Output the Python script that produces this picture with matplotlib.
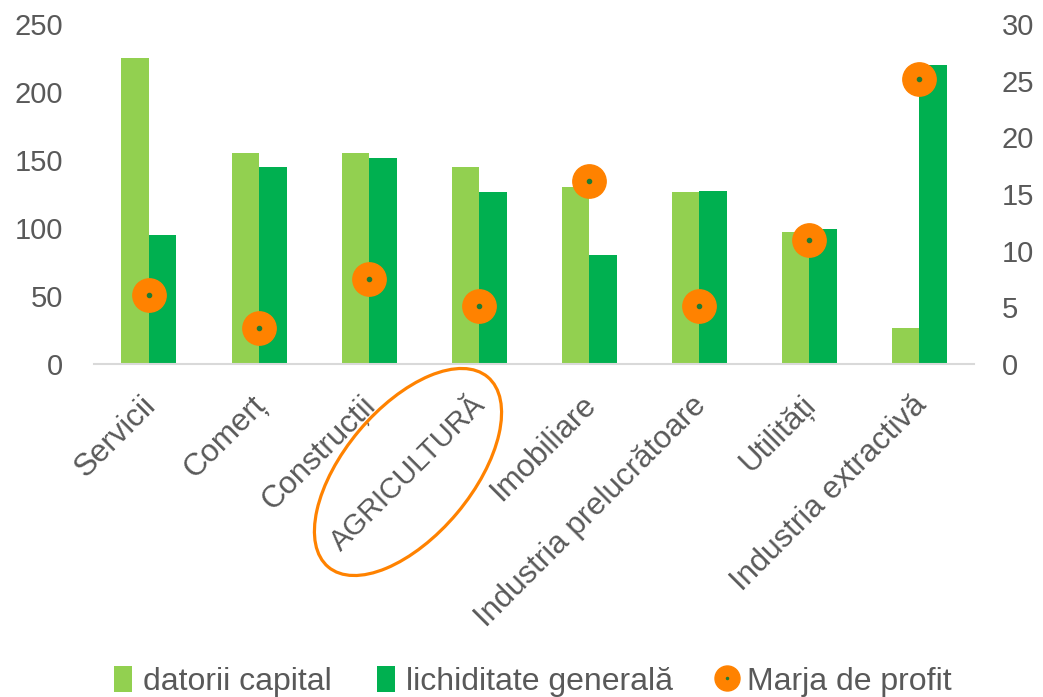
import matplotlib
matplotlib.use("Agg")
import matplotlib.pyplot as plt
import matplotlib.transforms as mtransforms
import numpy as np
from matplotlib.patches import Ellipse, Patch
from matplotlib.lines import Line2D
from matplotlib.legend_handler import HandlerTuple

categories = ["Servicii", "Comerț", "Construcții", "AGRICULTURĂ", "Imobiliare",
              "Industria prelucrătoare", "Utilități", "Industria extractivă"]
datorii_capital = [225, 155, 155, 145, 130, 126, 97, 26]
lichiditate_generala = [95, 145, 151, 126, 80, 127, 99, 220]
marja_profit = [6.1, 3.2, 7.5, 5.1, 16.1, 5.1, 10.9, 25.1]
left_ticks = [0, 50, 100, 150, 200, 250]
right_ticks = [0, 5, 10, 15, 20, 25, 30]

LIGHT = "#92D050"
DARK = "#00B050"
ORANGE = "#FF8200"
DOT = "#1E7B34"
GREY = "#595959"

plt.rcParams['font.family'] = ['Liberation Sans', 'DejaVu Sans']

fig = plt.figure(figsize=(10.43, 6.97), dpi=100)
ax = fig.add_axes([0.0901, 0.478, 0.8439, 0.4878])
ax2 = ax.twinx()

x = np.arange(len(categories))
w = 0.25
ax.bar(x - w / 2, datorii_capital, width=w, color=LIGHT, zorder=2)
ax.bar(x + w / 2, lichiditate_generala, width=w, color=DARK, zorder=2)
ax.set_xlim(-0.5, len(categories) - 0.5)
ax.set_ylim(0, 250)
ax.set_yticks(left_ticks)

ax2.plot(x, marja_profit, linestyle='none', marker='o', markersize=24,
         markerfacecolor=ORANGE, markeredgecolor=ORANGE, zorder=5)
ax2.plot(x, marja_profit, linestyle='none', marker='o', markersize=3,
         markerfacecolor=DOT, markeredgecolor=DOT, zorder=6)
ax2.set_ylim(0, 30)
ax2.set_yticks(right_ticks)

for a in (ax, ax2):
    for s in a.spines.values():
        s.set_visible(False)
    a.tick_params(axis='y', length=0, labelsize=21, labelcolor=GREY)
ax.tick_params(axis='y', pad=22)
ax2.tick_params(axis='y', pad=20)
ax.spines['bottom'].set_visible(True)
ax.spines['bottom'].set_color("#D9D9D9")
ax.spines['bottom'].set_linewidth(1.5)

ax.set_xticks(x)
ax.set_xticklabels(categories, rotation=45, ha='right', va='top',
                   rotation_mode='anchor', fontsize=22.5, color=GREY)
ax.tick_params(axis='x', length=0, pad=19)
offset = mtransforms.ScaledTranslation(-8 / 100, 0, fig.dpi_scale_trans)
for lbl in ax.get_xticklabels():
    lbl.set_transform(lbl.get_transform() + offset)
    if lbl.get_text() == "AGRICULTURĂ":
        lbl.set_fontsize(21)

# ellipse around AGRICULTURĂ (in inches, isotropic)
ell = Ellipse((4.08, 2.25), width=2.48, height=1.28, angle=50,
              transform=fig.dpi_scale_trans, fill=False,
              edgecolor=ORANGE, linewidth=2.3, zorder=10)
fig.patches.append(ell)

handles = [Patch(facecolor=LIGHT), Patch(facecolor=DARK),
           (Line2D([], [], linestyle='none', marker='o', markersize=18,
                   markerfacecolor=ORANGE, markeredgecolor=ORANGE),
            Line2D([], [], linestyle='none', marker='o', markersize=1.5,
                   markerfacecolor=DOT, markeredgecolor=DOT))]
labels = ["datorii capital", "lichiditate generală", "Marja de profit"]
leg = fig.legend(handles, labels, loc='center', bbox_to_anchor=(0.511, 0.022),
                 ncol=3, frameon=False, handler_map={tuple: HandlerTuple(ndivide=1)},
                 prop={'size': 23},
                 handlelength=0.55, handleheight=0.85, handletextpad=0.35, columnspacing=1.42)
for t in leg.get_texts():
    t.set_color(GREY)

fig.savefig("out.png", dpi=100)
